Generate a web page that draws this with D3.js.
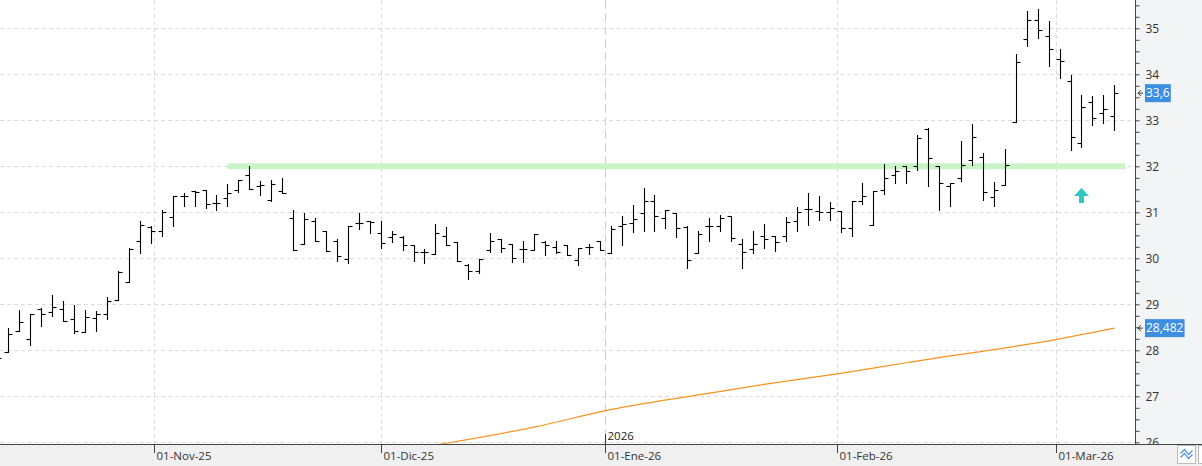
<!DOCTYPE html>
<html>
<head>
<meta charset="utf-8">
<script src="https://cdn.jsdelivr.net/npm/d3@7"></script>
<style>
  body { margin: 0; background: #fff; }
  svg { display: block; font-family: "Open Sans", "Noto Sans", sans-serif; }
</style>
</head>
<body>
<svg width="1202" height="466"></svg>
<script>
// trading days shown on the chart
var dates = [
  "2025-10-13","2025-10-14","2025-10-15","2025-10-16","2025-10-17",
  "2025-10-20","2025-10-21","2025-10-22","2025-10-23","2025-10-24",
  "2025-10-27","2025-10-28","2025-10-29","2025-10-30","2025-10-31",
  "2025-11-03","2025-11-04","2025-11-05","2025-11-06","2025-11-07",
  "2025-11-10","2025-11-11","2025-11-12","2025-11-13","2025-11-14",
  "2025-11-17","2025-11-18","2025-11-19","2025-11-20","2025-11-21",
  "2025-11-24","2025-11-25","2025-11-26","2025-11-27","2025-11-28",
  "2025-12-01","2025-12-02","2025-12-03","2025-12-04","2025-12-05",
  "2025-12-08","2025-12-09","2025-12-10","2025-12-11","2025-12-12",
  "2025-12-15","2025-12-16","2025-12-17","2025-12-18","2025-12-19",
  "2025-12-22","2025-12-23","2025-12-24","2025-12-29","2025-12-30","2025-12-31",
  "2026-01-02","2026-01-05","2026-01-06","2026-01-07","2026-01-08","2026-01-09",
  "2026-01-12","2026-01-13","2026-01-14","2026-01-15","2026-01-16",
  "2026-01-19","2026-01-20","2026-01-21","2026-01-22","2026-01-23",
  "2026-01-26","2026-01-27","2026-01-28","2026-01-29","2026-01-30",
  "2026-02-02","2026-02-03","2026-02-04","2026-02-05","2026-02-06",
  "2026-02-09","2026-02-10","2026-02-11","2026-02-12","2026-02-13",
  "2026-02-16","2026-02-17","2026-02-18","2026-02-19","2026-02-20",
  "2026-02-23","2026-02-24","2026-02-25","2026-02-26","2026-02-27",
  "2026-03-02","2026-03-03","2026-03-04","2026-03-05","2026-03-06","2026-03-09"
];

var open = [28.00,27.96,28.43,28.25,28.89,28.83,28.90,28.68,28.40,28.70,
  28.80,29.09,29.49,30.38,30.69,30.60,30.90,31.35,31.46,31.49,
  31.20,31.31,31.48,31.82,31.58,31.26,31.46,30.87,30.30,30.80,
  30.59,30.38,29.99,30.76,30.82,30.55,30.46,30.46,30.28,30.14,
  30.09,30.49,30.35,29.86,29.73,30.17,30.41,30.31,30.20,30.18,
  30.35,30.24,30.29,29.97,30.24,30.38,30.12,30.70,30.76,30.99,
  31.25,30.87,30.99,30.69,30.12,30.70,30.70,30.91,30.31,30.20,
  30.49,30.48,30.48,30.80,31.07,31.02,31.01,31.02,30.66,31.24,
  30.72,31.49,31.81,32.01,32.01,32.81,32.01,31.58,31.74,32.14,
  32.20,31.33,31.60,32.97,34.76,35.17,34.83,34.33,33.86,32.51,
  33.40,33.16,33.10];
var high = [28.05,28.49,28.88,28.78,28.91,29.20,29.08,28.99,28.87,28.86,
  29.15,29.72,30.23,30.82,30.70,31.06,31.36,31.42,31.46,31.49,
  31.38,31.62,31.71,32.00,31.67,31.70,31.75,31.04,30.99,30.87,
  30.59,30.43,30.71,30.99,30.82,30.82,30.60,30.48,30.28,30.20,
  30.75,30.67,30.35,29.88,29.99,30.55,30.41,30.31,30.37,30.53,
  30.37,30.37,30.29,30.22,30.31,30.38,30.71,30.91,31.16,31.52,
  31.38,31.05,30.99,30.71,30.60,30.87,30.94,30.91,30.43,30.59,
  30.75,30.48,30.89,31.12,31.43,31.36,31.22,31.02,31.24,31.64,
  31.46,32.05,32.01,32.01,32.68,32.84,32.01,31.63,32.54,32.92,
  32.30,31.65,32.38,34.45,35.37,35.41,35.15,34.55,33.98,33.56,
  33.52,33.56,33.77];
var low = [27.78,27.96,28.41,28.11,28.52,28.74,28.64,28.37,28.40,28.43,
  28.68,29.09,29.49,30.11,30.33,30.48,30.70,31.13,31.13,31.09,
  31.04,31.13,31.44,31.51,31.37,31.24,31.42,30.19,30.30,30.38,
  30.15,29.95,29.89,30.64,30.54,30.22,30.35,30.19,29.95,29.89,
  30.09,30.29,29.95,29.54,29.67,30.14,30.14,29.91,29.91,30.18,
  30.07,30.12,30.07,29.86,30.09,30.17,30.12,30.28,30.58,30.60,
  30.60,30.66,30.46,29.78,30.12,30.37,30.59,30.38,29.80,30.11,
  30.22,30.15,30.37,30.59,30.73,30.84,30.84,30.57,30.48,31.18,
  30.72,31.39,31.63,31.63,31.93,31.58,31.06,31.13,31.67,32.03,
  31.26,31.13,31.60,32.97,34.62,34.80,34.19,33.91,32.36,32.41,
  32.90,32.94,32.79];
var close = [27.83,28.36,28.62,28.78,28.80,28.95,28.64,28.41,28.73,28.79,
  29.07,29.70,30.21,30.72,30.59,31.00,31.36,31.35,31.44,31.17,
  31.20,31.42,31.70,31.51,31.60,31.62,31.42,30.19,30.86,30.38,
  30.15,30.06,30.71,30.76,30.78,30.33,30.52,30.28,30.14,30.14,
  30.55,30.29,29.95,29.73,29.99,30.38,30.22,30.00,30.20,30.53,
  30.28,30.14,30.07,30.22,30.24,30.17,30.64,30.75,30.86,31.25,
  30.91,31.05,30.66,29.97,30.53,30.71,30.87,30.44,30.14,30.31,
  30.43,30.35,30.78,31.00,31.07,31.00,31.09,30.66,31.24,31.36,
  31.46,31.74,31.89,31.89,32.61,32.17,31.64,31.63,32.03,32.63,
  31.45,31.49,32.03,34.27,35.17,34.96,34.56,34.29,32.64,33.29,
  33.04,33.25,33.59];

// moving average
var maDates = ["2025-12-05","2025-12-09","2025-12-19","2026-01-02","2026-01-14",
  "2026-01-22","2026-02-02","2026-02-10","2026-03-02","2026-03-09"];
var maValues = [25.90,25.98,26.33,26.71,27.03,27.26,27.50,27.73,28.25,28.482];

var supportLevel = 32;
var supportFrom = "2025-11-11";
var signalDate = "2026-03-04", signalPrice = 31.2;

var monthTicks = ["2025-11-01","2025-12-01","2026-01-01","2026-02-01","2026-03-01"];
var monthLabels = ["01-Nov-25","01-Dic-25","01-Ene-26","01-Feb-26","01-Mar-26"];
var yearTick = "2026-01-01", yearLabel = "2026";
var priceTicks = [26,27,28,29,30,31,32,33,34,35];

var svg = d3.select("svg"),
    plotRight = 1135,
    plotBottom = 444;

var es = d3.formatLocale({decimal: ",", thousands: ".", grouping: [3], currency: ["", "€"]});
var parse = d3.utcParse("%Y-%m-%d");
var idxOf = {};
dates.forEach(function(d, i) { idxOf[d] = i; });

var x = d3.scaleLinear().domain([0, dates.length - 1]).range([-2.55, 1114.35]);
var y = d3.scaleLinear().domain([26, 35]).range([442.3, 28.3]);

// calendar position between trading bars (for month starts falling on holidays/weekends)
function calIndex(s) {
  var t = parse(s);
  for (var i = 0; i < dates.length; i++) {
    var ti = parse(dates[i]);
    if (ti >= t) {
      if (i == 0 || +ti == +t) return i;
      var tp = parse(dates[i - 1]);
      return i - 1 + (t - tp) / (ti - tp);
    }
  }
  return dates.length - 1;
}
function cx(v) { return Math.round(v) + 0.5; }

svg.append("rect").attr("width", 1202).attr("height", 466).attr("fill", "#fff");
svg.append("rect").attr("x", plotRight).attr("y", 0).attr("width", 1202 - plotRight).attr("height", plotBottom).attr("fill", "#f3f4f6");
svg.append("rect").attr("x", 0).attr("y", plotBottom).attr("width", 1202).attr("height", 466 - plotBottom).attr("fill", "#f0f0f0");

svg.append("clipPath").attr("id", "plot")
  .append("rect").attr("width", plotRight).attr("height", plotBottom);
svg.append("clipPath").attr("id", "axisclip")
  .append("rect").attr("x", -1).attr("width", 80).attr("height", plotBottom);

var g = svg.append("g").attr("clip-path", "url(#plot)");

// grid
g.append("g").selectAll("line")
    .data(priceTicks)
  .enter().append("line")
    .attr("x1", 0).attr("x2", plotRight)
    .attr("y1", function(d) { return cx(y(d)); })
    .attr("y2", function(d) { return cx(y(d)); })
    .attr("stroke", "#dcdcdc")
    .attr("stroke-dasharray", "4,3");

g.append("g").selectAll("line")
    .data(monthTicks.filter(function(d) { return d != yearTick; }))
  .enter().append("line")
    .attr("x1", function(d) { return cx(x(calIndex(d))); })
    .attr("x2", function(d) { return cx(x(calIndex(d))); })
    .attr("y1", 0).attr("y2", plotBottom)
    .attr("stroke", "#dcdcdc")
    .attr("stroke-dasharray", "4,3");

var yearX = cx(x(calIndex(yearTick)));
g.append("line")
    .attr("x1", yearX).attr("x2", yearX)
    .attr("y1", 0).attr("y2", plotBottom)
    .attr("stroke", "#cfcfcf")
    .attr("stroke-dasharray", "9,4");
g.append("line")
    .attr("x1", yearX).attr("x2", yearX)
    .attr("y1", plotBottom - 10).attr("y2", plotBottom)
    .attr("stroke", "#333");
g.append("text")
    .attr("x", yearX + 2).attr("y", plotBottom - 4)
    .attr("fill", "#222")
    .style("font-size", "11.5px")
    .text(yearLabel);

// support band
g.append("rect")
    .attr("x", x(idxOf[supportFrom]))
    .attr("y", y(supportLevel) - 3)
    .attr("width", x(dates.length) - x(idxOf[supportFrom]))
    .attr("height", 6)
    .attr("fill", "#c9f5c6");

// moving average
var maLine = d3.line()
    .curve(d3.curveMonotoneX)
    .x(function(d, i) { return x(idxOf[maDates[i]]); })
    .y(function(d) { return y(d); });

g.append("path")
    .datum(maValues)
    .attr("fill", "none")
    .attr("stroke", "#f7941d")
    .attr("stroke-width", 1.2)
    .attr("d", maLine);

// OHLC bars
var bars = g.append("g").attr("stroke", "#000").attr("stroke-width", 1.1);
dates.forEach(function(d, i) {
  var bx = cx(x(i));
  bars.append("line")
      .attr("x1", bx).attr("x2", bx)
      .attr("y1", Math.round(y(high[i]))).attr("y2", Math.round(y(low[i])) + 1);
  bars.append("line")
      .attr("x1", bx - 4).attr("x2", bx)
      .attr("y1", cx(y(open[i]))).attr("y2", cx(y(open[i])));
  bars.append("line")
      .attr("x1", bx).attr("x2", bx + 4)
      .attr("y1", cx(y(close[i]))).attr("y2", cx(y(close[i])));
});

// signal arrow
var ax = x(idxOf[signalDate]), ay = y(signalPrice);
g.append("path")
    .attr("d", "M" + ax + "," + (ay - 15) + " L" + (ax + 7.5) + "," + (ay - 7) +
      " L" + (ax + 2.5) + "," + (ay - 7) + " L" + (ax + 2.5) + "," + ay +
      " L" + (ax - 2.5) + "," + ay + " L" + (ax - 2.5) + "," + (ay - 7) +
      " L" + (ax - 7.5) + "," + (ay - 7) + " Z")
    .attr("fill", "#33c4c6");

// right axis
var minor = d3.range(26, 35.76, 0.25);
var yAxis = svg.append("g")
    .attr("transform", "translate(" + (plotRight + 0.5) + ",0)")
    .attr("clip-path", "url(#axisclip)")
    .call(d3.axisRight(y).tickValues(minor).tickSize(4).tickPadding(6)
      .tickFormat(function(d) { return priceTicks.indexOf(d) >= 0 ? es.format("d")(d) : ""; }));
yAxis.select(".domain").attr("d", "M0,0V" + plotBottom).attr("stroke", "#444");
yAxis.selectAll(".tick line").attr("stroke", "#444");
yAxis.selectAll(".tick text").attr("fill", "#333").style("font-size", "12px")
    .style("font-family", "'Open Sans', sans-serif");

// bottom axis
svg.append("line")
    .attr("x1", 0).attr("x2", 1202)
    .attr("y1", plotBottom + 0.5).attr("y2", plotBottom + 0.5)
    .attr("stroke", "#444");

var xt = svg.append("g").selectAll("g")
    .data(monthTicks)
  .enter().append("g")
    .attr("transform", function(d) { return "translate(" + cx(x(calIndex(d))) + "," + plotBottom + ")"; });
xt.append("line").attr("y1", 0).attr("y2", 9).attr("stroke", "#444");
xt.append("text")
    .attr("x", 2).attr("y", 16)
    .attr("fill", "#333")
    .style("font-size", "11.5px")
    .text(function(d, i) { return monthLabels[i]; });

// value tags on the axis
var tags = [
  {v: close[close.length - 1], label: es.format(".1f")(close[close.length - 1])},
  {v: maValues[maValues.length - 1], label: es.format(".3f")(maValues[maValues.length - 1])}
];
var tag = svg.append("g").selectAll("g")
    .data(tags)
  .enter().append("g")
    .attr("transform", function(d) { return "translate(" + plotRight + "," + y(d.v) + ")"; });
tag.append("path")
    .attr("d", "M6,-3 L3,0 L6,3 M3,0 L8,0")
    .attr("fill", "none")
    .attr("stroke", "#333");
tag.append("text")
    .attr("x", 11).attr("dy", "0.35em")
    .attr("fill", "#fff")
    .style("font-size", "12px")
    .text(function(d) { return d.label; })
    .each(function() {
      var b = this.getBBox();
      d3.select(this.parentNode).insert("rect", "text")
        .attr("x", 10).attr("y", -9)
        .attr("width", b.width + 2).attr("height", 18)
        .attr("fill", "#3b8ee0");
    });

// small button in the corner
var btn = svg.append("g").attr("transform", "translate(1177.5,445.5)");
btn.append("rect").attr("width", 18).attr("height", 18).attr("fill", "#fff").attr("stroke", "#bbb");
btn.append("path").attr("d", "M3,8 L7,4 L11,9 L15,5 M3,12 L7,8 L11,13 L15,9")
    .attr("fill", "none").attr("stroke", "#4a90d9").attr("stroke-width", 1.2);
svg.append("rect").attr("x", 1198.5).attr("y", 445.5).attr("width", 10).attr("height", 18)
    .attr("fill", "#fff").attr("stroke", "#bbb");
</script>
</body>
</html>
